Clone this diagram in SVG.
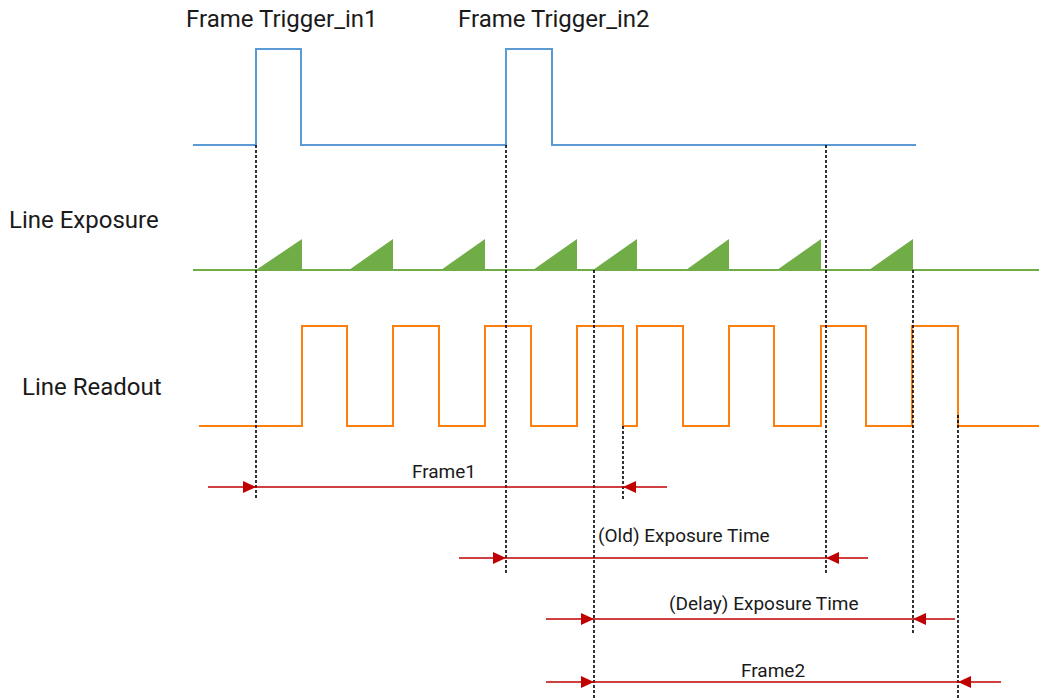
<svg xmlns="http://www.w3.org/2000/svg" width="1039" height="700" viewBox="0 0 1039 700">
<style>
.lbl{font-family:Roboto,"Liberation Sans",sans-serif;font-size:24px;fill:#1a1a1a}
.sm{font-family:Roboto,"Liberation Sans",sans-serif;font-size:19px;fill:#1a1a1a}
.trig{fill:none;stroke:#5B9BD5;stroke-width:2}
.expo{fill:#70AD47;stroke:none}
.expline{stroke:#70AD47;stroke-width:2}
.read{fill:none;stroke:#FF7F0E;stroke-width:2}
.dash{stroke:#000;stroke-width:1.6;stroke-dasharray:3 2}
.dim{stroke:#C00000;stroke-width:1.5}
.head{fill:#C00000}
</style>
<rect width="1039" height="700" fill="#fff"/>
<g id="labels">
<text class="lbl" x="186" y="27">Frame Trigger_in1</text>
<text class="lbl" x="458" y="27">Frame Trigger_in2</text>
<text class="lbl" x="9" y="228">Line Exposure</text>
<text class="lbl" x="22" y="395">Line Readout</text>
</g>
<g id="trigger">
<path class="trig" d="M193,145 H256 V49 H301 V145 H506 V49 H552 V145 H916"/>
</g>
<g id="exposure">
<line class="expline" x1="193" y1="270" x2="1039" y2="270"/>
<polygon class="expo" points="256,270 302,239 302,270"/>
<polygon class="expo" points="349,270 393,239 393,270"/>
<polygon class="expo" points="441,270 485,239 485,270"/>
<polygon class="expo" points="533,270 577,239 577,270"/>
<polygon class="expo" points="593,270 637,239 637,270"/>
<polygon class="expo" points="686,270 729,239 729,270"/>
<polygon class="expo" points="777,270 821,239 821,270"/>
<polygon class="expo" points="869,270 913,239 913,270"/>
</g>
<g id="readout">
<path class="read" d="M199,426 H302 V326 H347 V426 H393 V326 H439 V426 H485 V326 H531 V426 H577 V326 H623 V426 H637 V326 H683 V426 H729 V326 H774 V426 H821 V326 H866 V426 H912 V326 H958 V426 H1039"/>
</g>
<g id="connectors">
<line class="dash" x1="256" y1="145" x2="256" y2="500"/>
<line class="dash" x1="506" y1="145" x2="506" y2="575"/>
<line class="dash" x1="826" y1="145" x2="826" y2="575"/>
<line class="dash" x1="594" y1="270" x2="594" y2="700"/>
<line class="dash" x1="913" y1="270" x2="913" y2="633"/>
<line class="dash" x1="623" y1="426" x2="623" y2="500"/>
<line class="dash" x1="958" y1="415" x2="958" y2="700"/>
<g id="dim-frame1">
<line class="dim" x1="208" y1="487" x2="667" y2="487"/>
<polygon class="head" points="243,481 256,487 243,493"/>
<polygon class="head" points="636,481 623,487 636,493"/>
<text class="sm" x="444" y="478" text-anchor="middle">Frame1</text>
</g>
<g id="dim-old">
<line class="dim" x1="459" y1="558" x2="868" y2="558"/>
<polygon class="head" points="493,552 506,558 493,564"/>
<polygon class="head" points="839,552 826,558 839,564"/>
<text class="sm" x="598" y="542">(Old) Exposure Time</text>
</g>
<g id="dim-delay">
<line class="dim" x1="546" y1="619" x2="955" y2="619"/>
<polygon class="head" points="581,613 594,619 581,625"/>
<polygon class="head" points="926,613 913,619 926,625"/>
<text class="sm" x="669" y="610">(Delay) Exposure Time</text>
</g>
<g id="dim-frame2">
<line class="dim" x1="546" y1="682" x2="1001" y2="682"/>
<polygon class="head" points="581,676 594,682 581,688"/>
<polygon class="head" points="971,676 958,682 971,688"/>
<text class="sm" x="741" y="677">Frame2</text>
</g>
</g>
</svg>
